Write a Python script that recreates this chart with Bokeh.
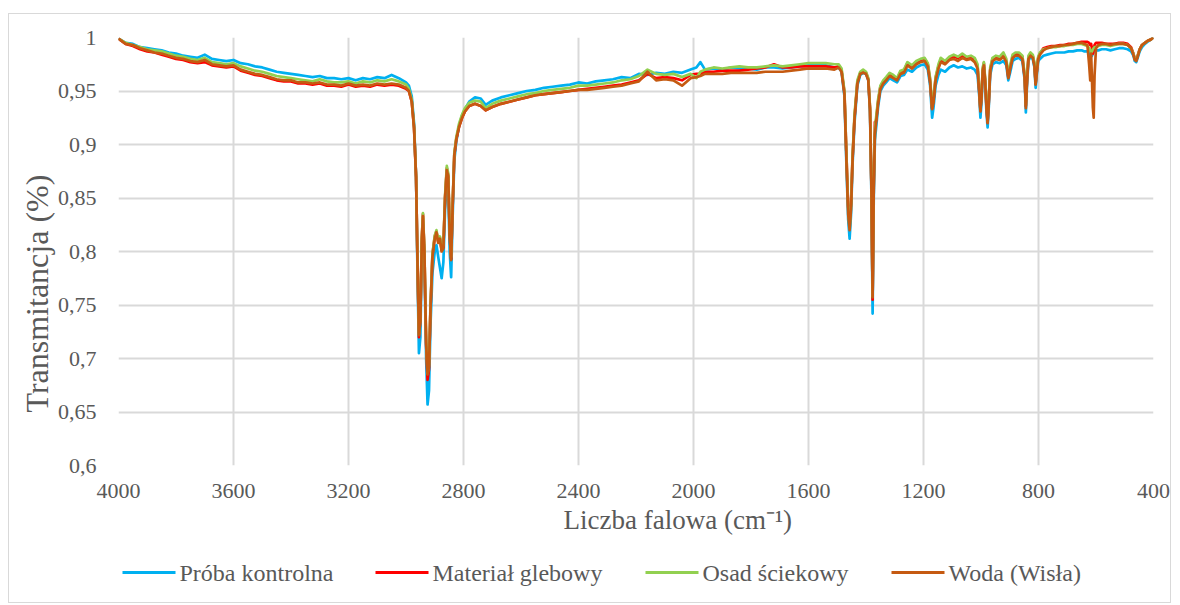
import math
from bokeh.plotting import figure
from bokeh.layouts import column
from bokeh.models import Range1d, FixedTicker, CustomJSTickFormatter, Title
from bokeh.core.properties import value
from bokeh.embed import file_html
from bokeh.resources import INLINE

# ---------------- data (wavenumber in cm-1, transmittance) ----------------
wn_a = [4000, 3975, 3950, 3925, 3900, 3875, 3850, 3825, 3800, 3775,
        3750, 3725, 3700, 3675, 3650, 3625, 3600, 3575, 3550, 3525,
        3500, 3475, 3450, 3425, 3400, 3375, 3350, 3325, 3300, 3275,
        3250, 3225, 3200, 3175, 3150, 3125, 3100, 3075, 3050, 3025,
        3000]
wn_b = [2990, 2980, 2972, 2965, 2960, 2955, 2950, 2945, 2941, 2936,
        2930, 2925, 2920, 2915, 2908, 2900, 2894, 2888, 2882, 2876,
        2870, 2864, 2858, 2853, 2848, 2843, 2838, 2832, 2825, 2815,
        2805, 2795, 2780]
wn_c = [2760, 2740, 2723, 2700, 2670, 2640, 2610, 2580, 2550, 2520,
        2490, 2460, 2430, 2400, 2370, 2340, 2310, 2280, 2250, 2220,
        2190, 2160, 2130, 2100, 2070, 2040, 2010, 1990, 1976, 1960,
        1930, 1900, 1870, 1840, 1810, 1780, 1750, 1720, 1690, 1660,
        1630, 1600, 1570, 1540, 1510]
wn_d = [1495, 1485, 1475, 1468, 1462, 1457, 1452, 1447, 1440, 1430,
        1420, 1410, 1400, 1392, 1386, 1381, 1377, 1373, 1369, 1365,
        1358, 1350, 1340, 1330, 1318, 1305, 1292, 1280, 1268, 1256,
        1240, 1225, 1210, 1196, 1185, 1177, 1170, 1165, 1158, 1148,
        1140, 1125, 1110, 1095, 1080, 1065, 1050, 1035, 1022, 1012,
        1006, 1002, 998, 994, 990, 985, 981, 977, 973, 968,
        960, 948, 935, 922, 912, 905, 898, 890, 880, 868,
        856, 848, 844, 840, 835, 828, 820, 814, 810, 806,
        801, 795, 783, 770, 755, 740, 725, 710, 695, 680,
        665, 650, 640, 630, 624, 620, 617, 614, 611, 608,
        605, 600, 592, 580, 565, 550, 535, 520, 505, 490,
        478, 470, 465, 460, 455, 448, 440, 430, 420, 410,
        400]

# Próba kontrolna (blue)
kontrolna_a = [.999, .995, .994, .991, .990, .989, .988, .986, .985, .983,
               .982, .981, .984, .980, .979, .978, .979, .976, .975, .973,
               .972, .970, .968, .967, .966, .965, .964, .963, .964, .962,
               .962, .961, .962, .960, .962, .961, .963, .962, .965, .962,
               .958]
kontrolna_b = [.955, .945, .920, .870, .780, .705, .720, .800, .825, .790,
               .700, .657, .670, .730, .780, .800, .806, .795, .785, .775,
               .790, .840, .865, .855, .800, .776, .830, .885, .903, .918,
               .927, .933, .940]
kontrolna_c = [.944, .943, .937, .941, .944, .946, .948, .950, .951, .953,
               .954, .955, .956, .958, .957, .959, .960, .961, .963, .962,
               .966, .965, .967, .966, .968, .967, .970, .972, .977, .970,
               .971, .970, .972, .971, .971, .970, .972, .972, .971, .972,
               .973, .974, .974, .974, .972]
kontrolna_d = [.972, .968, .945, .880, .830, .812, .835, .880, .920, .955,
               .965, .967, .966, .960, .930, .850, .742, .850, .904, .915,
               .935, .950, .955, .958, .962, .960, .958, .964, .965, .970,
               .968, .972, .974, .975, .970, .955, .925, .935, .955, .965,
               .970, .968, .972, .974, .972, .973, .971, .972, .970, .965,
               .945, .925, .940, .965, .972, .955, .930, .916, .935, .965,
               .975, .977, .976, .978, .974, .960, .968, .978, .980, .981,
               .978, .960, .930, .955, .978, .982, .980, .972, .953, .965,
               .978, .980, .983, .984, .985, .986, .986, .986, .987, .987,
               .988, .988, .987, .987, .986, .984, .982, .983, .985, .986,
               .987, .988, .988, .989, .989, .988, .989, .990, .990, .989,
               .987, .983, .978, .977, .981, .987, .991, .994, .996, .998,
               1.000]

# Materiał glebowy (red)
glebowy_a = [.999, .994, .992, .989, .987, .986, .984, .982, .980, .979,
             .977, .976, .977, .974, .973, .972, .973, .969, .967, .965,
             .964, .962, .960, .959, .959, .957, .957, .956, .957, .955,
             .955, .954, .956, .954, .955, .954, .956, .955, .956, .955,
             .952]
glebowy_b = [.950, .940, .916, .870, .790, .720, .737, .812, .835, .800,
             .713, .680, .690, .745, .797, .814, .819, .809, .813, .801,
             .804, .851, .878, .871, .816, .793, .841, .890, .905, .917,
             .925, .931, .936]
glebowy_c = [.938, .936, .932, .935, .938, .940, .942, .944, .946, .947,
             .948, .949, .950, .951, .952, .953, .954, .955, .956, .958,
             .960, .966, .962, .963, .962, .960, .965, .966, .966, .968,
             .968, .969, .969, .969, .970, .971, .972, .975, .972, .972,
             .973, .973, .973, .973, .972]
glebowy_d = [.973, .969, .949, .890, .842, .830, .845, .886, .925, .958,
             .967, .968, .967, .961, .934, .858, .755, .862, .921, .922,
             .940, .954, .958, .961, .966, .964, .961, .968, .969, .976,
             .973, .977, .979, .980, .975, .960, .934, .942, .962, .973,
             .979, .977, .981, .982, .981, .983, .981, .982, .979, .973,
             .950, .932, .947, .970, .976, .958, .936, .921, .940, .970,
             .980, .982, .981, .984, .978, .963, .973, .982, .985, .985,
             .982, .963, .936, .960, .981, .985, .983, .975, .957, .968,
             .981, .985, .990, .991, .992, .992, .993, .993, .994, .994,
             .995, .996, .996, .996, .995, .993, .994, .990, .985, .988,
             .993, .995, .995, .995, .994, .994, .994, .995, .995, .994,
             .991, .985, .980, .979, .983, .989, .993, .995, .997, .998,
             1.000]

# Osad ściekowy (green)
osad_a = [.999, .995, .993, .991, .989, .988, .987, .985, .983, .982,
          .980, .979, .981, .977, .976, .975, .976, .973, .971, .969,
          .968, .966, .964, .963, .962, .961, .960, .959, .961, .959,
          .958, .958, .959, .957, .959, .958, .960, .959, .961, .959,
          .956]
osad_b = [.952, .942, .917, .871, .790, .722, .738, .813, .836, .802,
          .717, .686, .694, .748, .798, .815, .820, .810, .814, .802,
          .806, .853, .880, .873, .818, .795, .843, .892, .907, .920,
          .928, .934, .939]
osad_c = [.941, .940, .934, .938, .941, .943, .945, .947, .948, .950,
          .951, .952, .953, .955, .955, .956, .957, .958, .960, .961,
          .964, .970, .966, .965, .966, .963, .966, .962, .968, .970,
          .972, .971, .972, .973, .972, .972, .973, .974, .973, .974,
          .975, .976, .976, .976, .975]
osad_d = [.975, .971, .950, .890, .840, .822, .843, .888, .928, .960,
          .968, .970, .968, .962, .935, .860, .758, .865, .915, .925,
          .942, .955, .960, .963, .967, .965, .962, .969, .970, .977,
          .974, .978, .980, .981, .976, .962, .935, .944, .963, .975,
          .981, .978, .982, .984, .982, .985, .982, .983, .981, .975,
          .952, .933, .948, .972, .977, .960, .938, .922, .942, .972,
          .981, .983, .982, .986, .980, .965, .975, .984, .986, .986,
          .983, .965, .937, .962, .983, .986, .984, .976, .958, .970,
          .982, .986, .989, .990, .991, .991, .992, .992, .993, .993,
          .994, .994, .993, .992, .990, .988, .986, .987, .989, .990,
          .991, .991, .992, .993, .993, .992, .993, .994, .994, .993,
          .990, .985, .980, .979, .983, .989, .993, .995, .997, .998,
          1.000]

# Woda (Wisła) (brown)
woda_a = [.999, .994, .993, .990, .988, .986, .985, .983, .981, .980,
          .978, .977, .979, .975, .974, .973, .974, .970, .968, .966,
          .965, .963, .961, .960, .960, .958, .958, .957, .958, .956,
          .956, .955, .957, .955, .956, .955, .957, .956, .957, .956,
          .953]
woda_b = [.950, .940, .915, .870, .790, .722, .735, .810, .833, .800,
          .715, .685, .692, .745, .795, .812, .818, .808, .812, .800,
          .803, .850, .876, .870, .815, .792, .840, .890, .905, .917,
          .925, .931, .936]
woda_c = [.938, .936, .932, .935, .938, .940, .942, .944, .946, .947,
          .948, .949, .950, .951, .951, .952, .953, .954, .955, .957,
          .959, .968, .960, .961, .960, .955, .962, .963, .964, .966,
          .966, .966, .967, .967, .967, .967, .968, .968, .968, .969,
          .970, .971, .971, .971, .970]
woda_d = [.972, .968, .947, .885, .835, .820, .840, .884, .924, .957,
          .966, .967, .966, .960, .932, .855, .757, .860, .910, .920,
          .938, .952, .957, .960, .964, .962, .960, .966, .967, .974,
          .971, .975, .977, .978, .973, .958, .933, .940, .960, .971,
          .977, .975, .979, .980, .978, .981, .979, .980, .977, .971,
          .948, .931, .945, .969, .974, .957, .934, .920, .938, .969,
          .978, .980, .979, .982, .977, .962, .972, .981, .983, .983,
          .980, .962, .934, .959, .980, .983, .981, .973, .956, .967,
          .980, .984, .988, .990, .991, .992, .992, .993, .993, .994,
          .995, .995, .994, .993, .975, .960, .985, .960, .935, .925,
          .965, .990, .993, .994, .994, .993, .994, .994, .994, .993,
          .990, .984, .979, .978, .982, .989, .993, .995, .997, .998,
          1.000]

x_ticks = [4000, 3600, 3200, 2800, 2400, 2000, 1600, 1200, 800, 400]
y_ticks = [0.6, 0.65, 0.7, 0.75, 0.8, 0.85, 0.9, 0.95, 1.0]

series_names = ["Próba kontrolna", "Materiał glebowy", "Osad ściekowy", "Woda (Wisła)"]
series_colors = ["#00b0f0", "#ff0000", "#92d050", "#c55a11"]

wavenumber = wn_a + wn_b + wn_c + wn_d
series_values = [
    kontrolna_a + kontrolna_b + kontrolna_c + kontrolna_d,
    glebowy_a + glebowy_b + glebowy_c + glebowy_d,
    osad_a + osad_b + osad_c + osad_d,
    woda_a + woda_b + woda_c + woda_d,
]
for vals in series_values:
    assert len(vals) == len(wavenumber), (len(vals), len(wavenumber))

# ---------------- main figure ----------------
FONT = "Liberation Serif"
GREY_TXT = "#595959"

p = figure(frame_width=1035, frame_height=428,
           x_range=Range1d(4000, 400), y_range=Range1d(0.6, 1.0),
           output_backend="svg", toolbar_location=None,
           min_border_left=109, min_border_right=17,
           min_border_top=23, min_border_bottom=80,
           background_fill_color="white", border_fill_color="white")
p.outline_line_color = None

for ax in (p.xaxis, p.yaxis):
    ax.axis_line_color = None
    ax.major_tick_line_color = None
    ax.minor_tick_line_color = None
    ax.major_tick_out = 0
    ax.major_tick_in = 0
    ax.major_label_text_font = FONT
    ax.major_label_text_font_size = "22px"
    ax.major_label_text_color = GREY_TXT

p.xaxis.ticker = FixedTicker(ticks=x_ticks)
p.yaxis.ticker = FixedTicker(ticks=y_ticks)
p.xaxis.major_label_standoff = 18
p.yaxis.major_label_standoff = 22
p.yaxis.formatter = CustomJSTickFormatter(
    code="var s = (Math.round(tick*100)/100).toString(); return s.replace('.', ',');")

p.xgrid.ticker = FixedTicker(ticks=x_ticks)
p.ygrid.ticker = FixedTicker(ticks=y_ticks[1:])
p.xgrid.grid_line_color = "#d9d9d9"
p.ygrid.grid_line_color = "#d9d9d9"
p.xgrid.grid_line_width = 2
p.ygrid.grid_line_width = 2

for color, vals in zip(series_colors, series_values):
    p.line(wavenumber, vals, line_color=color, line_width=2.7, line_join="round")

p.add_layout(Title(text="Transmitancja (%)", align="left", offset=53, standoff=0,
                   text_font=FONT, text_font_size="32px", text_font_style="normal",
                   text_color=GREY_TXT), "left")
p.add_layout(Title(text="Liczba falowa (cm⁻¹)", align="left", offset=445, standoff=4,
                   text_font=FONT, text_font_size="27px", text_font_style="normal",
                   text_color=GREY_TXT), "below")

# ---------------- legend strip ----------------
# The strip's frame is aligned with the main frame by the column layout, so its
# x range is expressed in page pixels (main frame spans 118..1153).
leg = figure(width=1161, height=57, x_range=Range1d(118, 1153), y_range=Range1d(0, 57),
             output_backend="svg", toolbar_location=None,
             x_axis_type=None, y_axis_type=None,
             min_border_left=0, min_border_right=0, min_border_top=0, min_border_bottom=0,
             background_fill_color="white", border_fill_color="white")
leg.outline_line_color = None
leg.xgrid.visible = False
leg.ygrid.visible = False

legend_line_start = [122, 375, 645, 891]
legend_line_len = 53
legend_y = 30
leg.segment(x0=legend_line_start,
            y0=[legend_y] * 4,
            x1=[s + legend_line_len for s in legend_line_start],
            y1=[legend_y] * 4,
            line_color=series_colors, line_width=3)
leg.text(x=[s + legend_line_len + 4 for s in legend_line_start], y=[legend_y] * 4,
         text=series_names, text_font=value(FONT), text_font_size="24px",
         text_color=GREY_TXT, text_baseline="middle", text_align="left")

layout = column(p, leg, spacing=0)
layout.margin = (13, 0, 0, 8)
layout.styles = {"border": "1px solid #d9d9d9"}

open("out.html", "w").write(file_html(layout, INLINE))
